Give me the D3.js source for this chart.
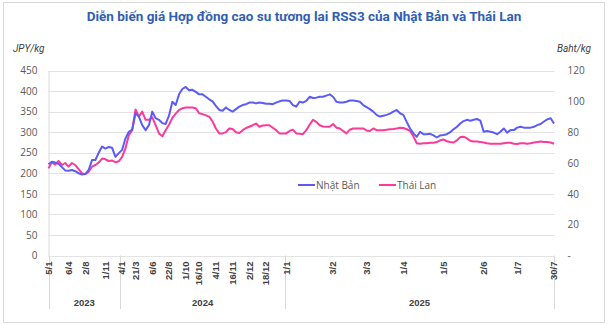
<!DOCTYPE html>
<html>
<head>
<meta charset="utf-8">
<script src="https://cdn.jsdelivr.net/npm/d3@7"></script>
<style>
  html, body { margin: 0; padding: 0; background: #fff; }
  svg { display: block; }
</style>
</head>
<body>
<svg id="chart" width="608" height="325"></svg>
<script>
// RSS3 rubber futures, sampled per trading session (index along the category axis)
const japanJPY = [
  222,228,226,223,215,207,206,208,205,200,197,198,208,232,232,250,265,260,264,262,
  240,249,257,285,301,306,346,338,317,305,317,350,334,330,322,320,340,374,366,
  392,405,410,402,403,398,392,392,386,380,375,364,354,352,360,354,350,356,362,366,
  368,372,372,370,372,371,369,369,368,372,375,377,377,376,366,
  362,374,372,376,386,383,384,386,386,389,392,386,374,372,372,374,377,377,376,374,
  366,361,356,350,342,338,340,342,345,350,354,346,342,325,309,297,289,301,
  295,295,296,292,287,292,293,295,300,307,313,321,327,330,328,330,332,328,301,303,
  301,299,295,301,309,299,305,305,311,313,311,311,311,313,317,320,326,331,334,321
];

const thaiBaht = [
  56.5,60.5,58.9,61.3,58.7,60.0,57.6,60.0,58.7,56.0,53.3,52.8,54.4,57.6,58.7,60.3,62.9,62.4,61.3,61.6,
  60.5,61.1,64.0,69.6,78.1,81.3,94.7,90.1,93.3,88.0,88.0,89.6,84.5,79.2,77.3,81.3,84.8,89.3,92.0,
  94.4,95.5,96.0,96.0,96.0,95.5,92.3,91.7,90.9,90.1,86.9,82.4,79.2,79.2,80.0,82.4,82.1,80.0,79.5,81.3,
  82.7,83.5,84.5,85.6,83.5,84.3,84.5,84.5,82.9,81.3,79.2,79.2,79.2,80.8,81.6,
  79.2,78.9,78.7,81.3,84.8,88.0,86.7,84.5,83.7,83.5,83.5,85.3,82.9,82.4,80.8,79.2,81.6,82.4,82.4,82.4,
  82.4,81.1,80.8,82.4,81.3,81.3,81.3,81.6,81.9,82.1,82.4,82.9,82.7,81.9,80.8,77.3,72.8,72.5,
  72.8,72.8,73.1,73.1,73.6,74.7,75.2,74.1,73.6,73.3,74.7,76.8,77.1,76.0,74.4,73.9,73.9,73.6,73.3,72.8,
  72.5,72.5,72.5,72.5,72.8,73.1,73.1,72.5,72.3,72.8,72.8,72.5,72.8,73.3,73.6,73.9,73.6,73.6,73.3,72.5
];

// Category labels and the session index each one sits on
const tickLabels = ["5/1","6/4","2/8","1/11","4/1","21/3","6/6","22/8","1/10","16/10","4/11","16/11",
                    "2/12","18/12","1/1","3/2","3/3","1/4","1/5","2/6","1/7","30/7"];
const tickIndex  = [0,6,11,17,22,26,31,36,41,45,50,55,60,65,71,85,95,106,118,130,140,151];

// Year groups: label and session-index span
const years      = ["2023","2024","2025"];
const yearStart  = [0, 21.4, 70.7];
const yearEnd    = [21.4, 70.7, 151];

const leftTicks  = [0,50,100,150,200,250,300,350,400,450];
const rightTicks = [0,20,40,60,80,100,120];

const seriesNames = ["Nhật Bản","Thái Lan"];
const colors = ["#5b5cf6","#fb3a9a"];

const svg = d3.select("#chart");
const W = 608, H = 325;
const plot = { left: 48.5, right: 554.5, top: 70.5, bottom: 255.5 };

// outer frame
svg.append("rect")
  .attr("x", 3.5).attr("y", 2.5).attr("width", W - 7).attr("height", H - 5)
  .attr("fill", "#fff").attr("stroke", "#d9d9d9").attr("stroke-width", 1);

const n = japanJPY.length;
const x = d3.scaleLinear().domain([0, n - 1]).range([plot.left, plot.right - 0.5]);
const yL = d3.scaleLinear().domain([0, 450]).range([plot.bottom, plot.top]);
const yR = d3.scaleLinear().domain([0, 120]).range([plot.bottom, plot.top]);

// title
svg.append("text")
  .attr("x", W / 2).attr("y", 21)
  .attr("text-anchor", "middle")
  .attr("font-family", "Roboto, 'Noto Sans', sans-serif")
  .attr("font-weight", "bold")
  .attr("font-size", 13.5)
  .attr("fill", "#2f5fb3")
  .text("Diễn biến giá Hợp đồng cao su tương lai RSS3 của Nhật Bản và Thái Lan");

// unit labels
svg.append("text")
  .attr("x", 13).attr("y", 52)
  .attr("font-family", "Roboto, sans-serif").attr("font-style", "italic")
  .attr("font-size", 10).attr("fill", "#404040")
  .text("JPY/kg");
svg.append("text")
  .attr("x", 591).attr("y", 52).attr("text-anchor", "end")
  .attr("font-family", "Roboto, sans-serif").attr("font-style", "italic")
  .attr("font-size", 10).attr("fill", "#404040")
  .text("Baht/kg");

// horizontal gridlines
svg.append("g")
  .selectAll("line").data(leftTicks).join("line")
  .attr("x1", plot.left).attr("x2", plot.right)
  .attr("y1", d => Math.round(yL(d)) + 0.5).attr("y2", d => Math.round(yL(d)) + 0.5)
  .attr("stroke", "#e3e3e3").attr("stroke-width", 1);

// left value axis
const axisL = svg.append("g").attr("transform", `translate(${plot.left},0)`)
  .call(d3.axisLeft(yL).tickValues(leftTicks).tickSize(0).tickPadding(11));
axisL.select(".domain").attr("stroke", "#d9d9d9");
axisL.selectAll("text")
  .attr("font-family", "'Open Sans', sans-serif").attr("font-size", 10).attr("fill", "#595959");

// right value axis (zero shown as a dash)
const axisR = svg.append("g").attr("transform", `translate(${plot.right},0)`)
  .call(d3.axisRight(yR).tickValues(rightTicks).tickSize(0).tickPadding(13)
    .tickFormat(d => d === 0 ? "-" : d));
axisR.select(".domain").remove();
axisR.selectAll("text")
  .attr("font-family", "'Open Sans', sans-serif").attr("font-size", 10).attr("fill", "#595959");

// category axis: year separators, rotated date labels, year labels
const catY = plot.bottom;
const sepIdx = [0].concat(yearEnd);
svg.append("g")
  .selectAll("line").data(sepIdx).join("line")
  .attr("x1", d => Math.round(x(d)) + 0.5).attr("x2", d => Math.round(x(d)) + 0.5)
  .attr("y1", catY).attr("y2", 309)
  .attr("stroke", "#d9d9d9");

svg.append("g")
  .selectAll("text").data(tickLabels).join("text")
  .attr("transform", (d, i) => `translate(${x(tickIndex[i])},${catY + 6}) rotate(-90)`)
  .attr("text-anchor", "end").attr("dy", "0.35em")
  .attr("font-family", "'Liberation Sans', Arial, sans-serif").attr("font-weight", "bold")
  .attr("font-size", 9.5).attr("fill", "#404040")
  .text(d => d);

svg.append("g")
  .selectAll("text").data(years).join("text")
  .attr("x", (d, i) => x((yearStart[i] + yearEnd[i]) / 2))
  .attr("y", 306)
  .attr("text-anchor", "middle")
  .attr("font-family", "'Liberation Sans', Arial, sans-serif").attr("font-weight", "bold")
  .attr("font-size", 9.5).attr("fill", "#404040")
  .text(d => d);

// series lines
const lineJP = d3.line().x((d, i) => x(i)).y(d => yL(d));
const lineTH = d3.line().x((d, i) => x(i)).y(d => yR(d));
svg.append("path").datum(thaiBaht)
  .attr("d", lineTH).attr("fill", "none")
  .attr("stroke", colors[1]).attr("stroke-width", 2).attr("stroke-linejoin", "round");
svg.append("path").datum(japanJPY)
  .attr("d", lineJP).attr("fill", "none")
  .attr("stroke", colors[0]).attr("stroke-width", 2).attr("stroke-linejoin", "round");

// legend
const legX = [298, 379];
const legend = svg.append("g");
seriesNames.forEach((name, i) => {
  legend.append("line")
    .attr("x1", legX[i]).attr("x2", legX[i] + 17)
    .attr("y1", 185).attr("y2", 185)
    .attr("stroke", colors[i]).attr("stroke-width", 2);
  legend.append("text")
    .attr("x", legX[i] + 18).attr("y", 185).attr("dy", "0.35em")
    .attr("font-family", "'Open Sans', sans-serif").attr("font-size", 10).attr("fill", "#595959")
    .text(name);
});
</script>
</body>
</html>
